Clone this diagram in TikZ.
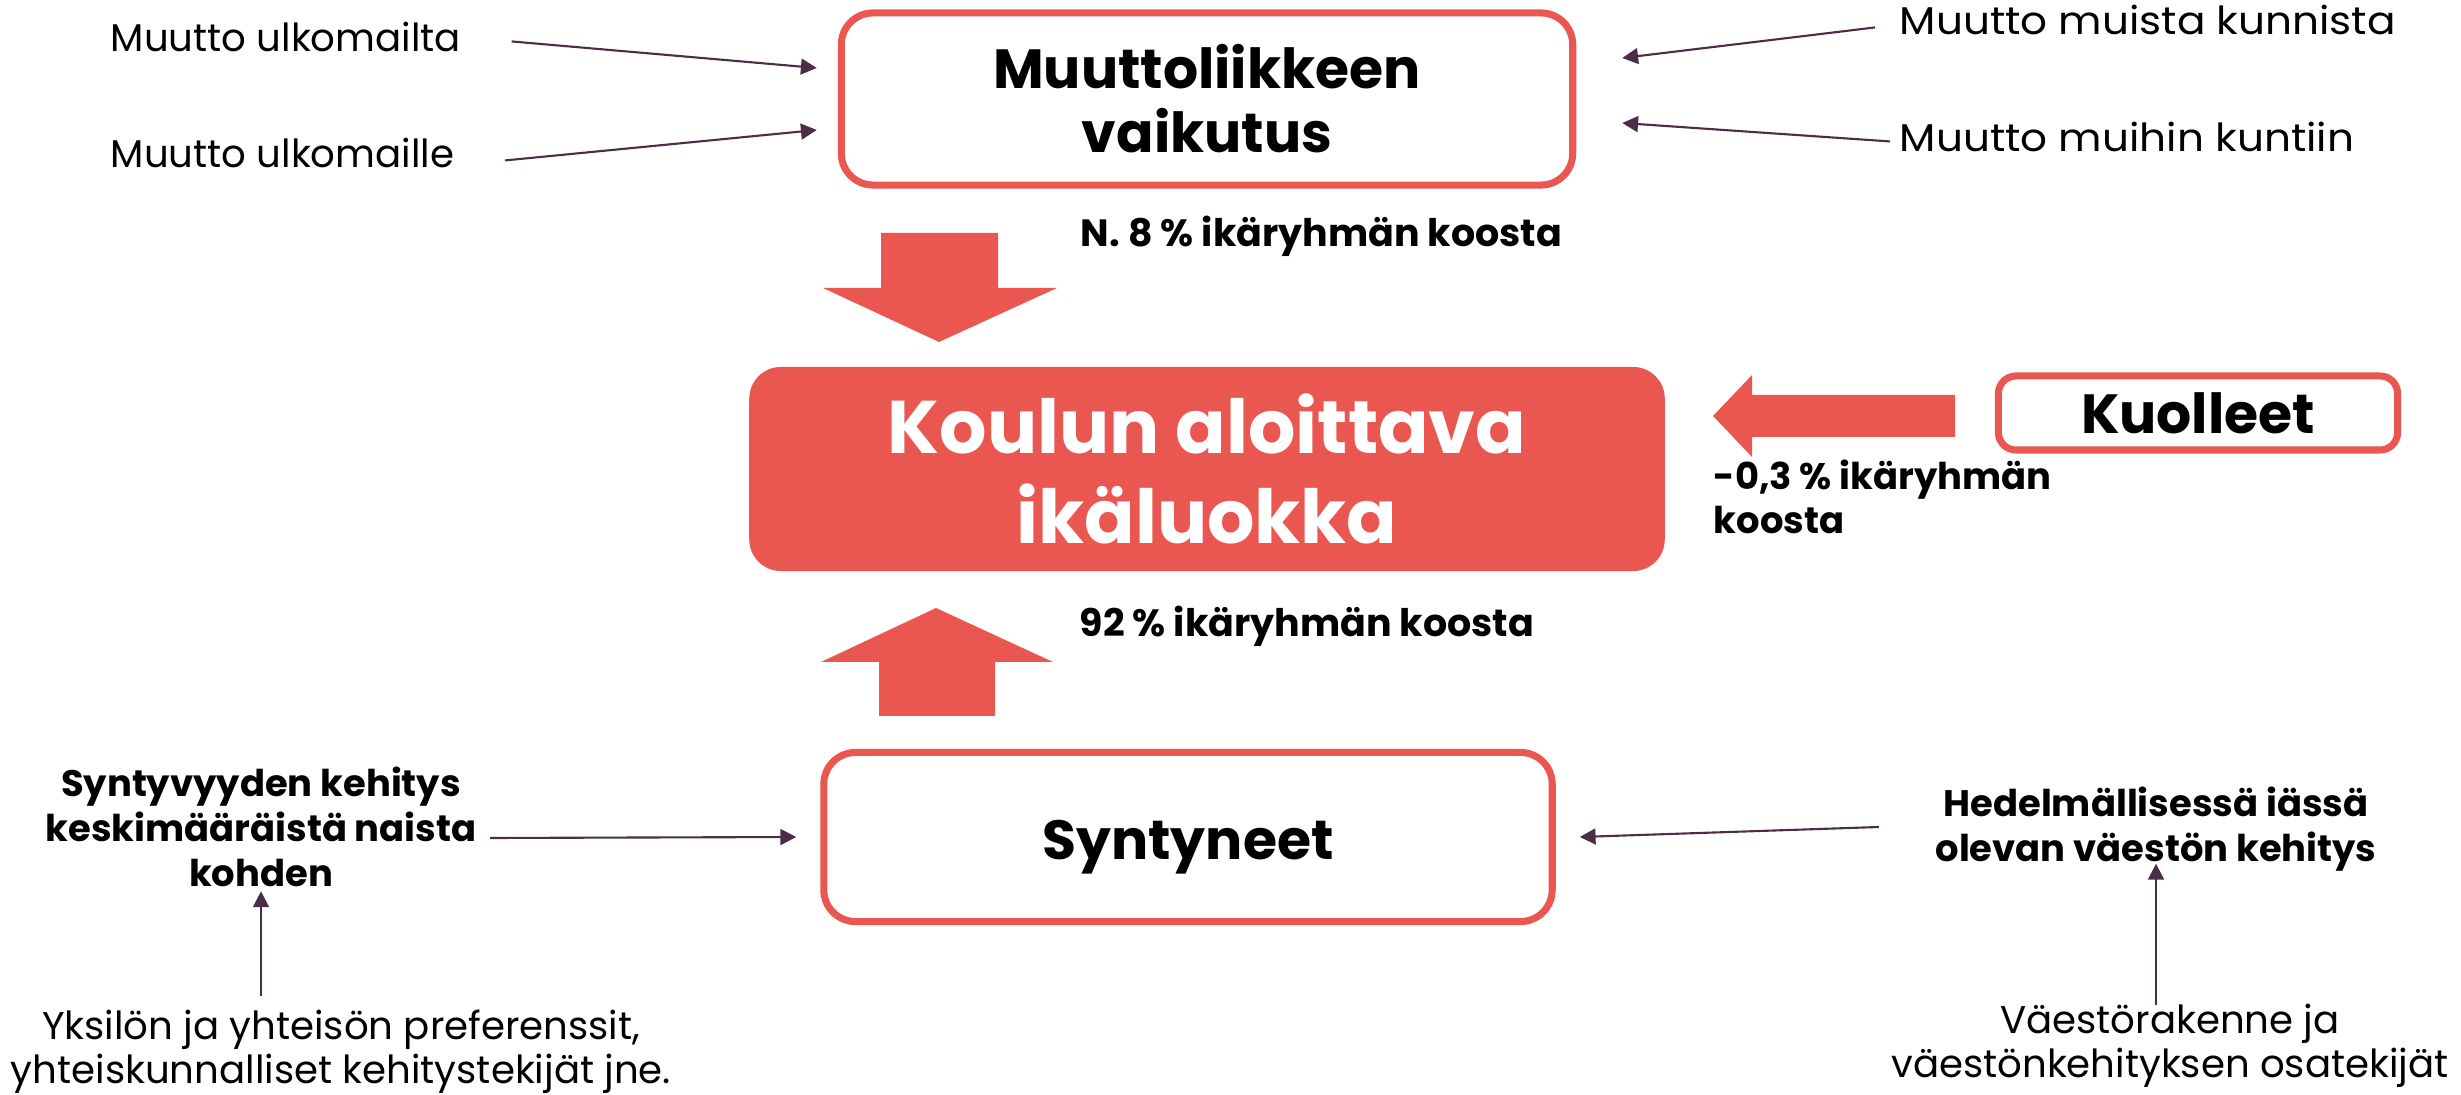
\documentclass[tikz,border=0pt]{standalone}
\usepackage{fontspec}
\setmainfont{Poppins}
\usetikzlibrary{arrows.meta,calc,positioning}
\definecolor{koralli}{HTML}{EA5650}
\definecolor{luumu}{HTML}{4B2D47}

\begin{document}
\begin{tikzpicture}[x=0.01cm,y=-0.01cm,
  laatikko/.style={draw=koralli,line width=2pt,rounded corners=9pt,fill=white,align=center,inner sep=0pt,font=\fontsize{15.7pt}{18.2pt}\selectfont\bfseries},
  selite/.style={align=center,inner sep=0pt,font=\fontsize{11pt}{12.5pt}\selectfont},
  lihava/.style={align=center,inner sep=0pt,font=\fontsize{10.5pt}{12.7pt}\selectfont\bfseries},
  yhteys/.style={draw=luumu,line width=0.6pt,-{Triangle[length=4.5pt,width=4.5pt]}}]
\useasboundingbox (0,0) rectangle (2461,1095);
\node[laatikko,minimum width=7.31cm,minimum height=1.72cm] (muutto) at (1207,99) {Muuttoliikkeen\\vaikutus};
\node[fill=koralli,rounded corners=9pt,minimum width=9.15cm,minimum height=2.04cm,text=white,align=center,inner sep=0pt,font=\fontsize{21.2pt}{25.6pt}\selectfont\bfseries] (koulu) at (1207,469) {Koulun aloittava\\ikäluokka};
\node[laatikko,rounded corners=5pt,minimum width=3.99cm,minimum height=0.74cm] (kuolleet) at (2198,413) {Kuolleet};
\node[laatikko,minimum width=7.28cm,minimum height=1.69cm,text height=12.6pt,text depth=0pt] (syntyneet) at (1188,837) {Syntyneet};
\node[selite,anchor=base west] (ulkoa) at (110,52) {Muutto ulkomailta};
\node[selite,anchor=base west] (ulos) at (110,168) {Muutto ulkomaille};
\node[selite,anchor=base west] (kunnista) at (1899,35) {\scalebox{1.09}[1]{Muutto muista kunnista}};
\node[selite,anchor=base west] (kuntiin) at (1899,152) {\scalebox{1.09}[1]{Muutto muihin kuntiin}};
\node[lihava,font=\fontsize{10.8pt}{12.7pt}\selectfont\bfseries,anchor=base west] (osuus8) at (1080,247) {N. 8 \% ikäryhmän koosta};
\node[lihava,font=\fontsize{10.8pt}{12.7pt}\selectfont\bfseries,anchor=base west] (osuus92) at (1079,637) {92 \% ikäryhmän koosta};
\node[lihava,align=left,anchor=north west] (osuus03) at (1713,459) {-0,3 \% ikäryhmän\\koosta};
\node[lihava] (syntyvyys) at (261,827) {Syntyvyyden kehitys\\keskimääräistä naista\\kohden};
\node[lihava] (hedelma) at (2156,829) {Hedelmällisessä iässä\\olevan väestön kehitys};
\node[selite] (yksilo) at (341,1052) {Yksilön ja yhteisön preferenssit,\\yhteiskunnalliset kehitystekijät jne.};
\node[selite] (rakenne) at (2170,1046) {Väestörakenne ja\\väestönkehityksen osatekijät};
\fill[koralli] (881,233) -- (998,233) -- (998,288) -- (1057,288) -- (939,342) -- (823,288) -- (881,288) -- cycle;
\fill[koralli] (879,716) -- (995,716) -- (995,662) -- (1053,662) -- (936,608) -- (821,662) -- (879,662) -- cycle;
\fill[koralli] (1955,395) -- (1955,437) -- (1752,437) -- (1752,457) -- (1713,416) -- (1752,375) -- (1752,395) -- cycle;
\draw[yhteys] ($(ulkoa.east)+(50,4)$) -- ($(muutto.west)+(-21,-31)$);
\draw[yhteys] ($(ulos.east)+(50,7)$) -- ($(muutto.west)+(-21,31)$);
\draw[yhteys] ($(kunnista.west)+(-24,7)$) -- ($(muutto.east)+(46,-41)$);
\draw[yhteys] ($(kuntiin.west)+(-9,4)$) -- ($(muutto.east)+(46,24)$);
\draw[yhteys] ($(syntyvyys.east)+(13,11)$) -- ($(syntyneet.west)+(-24,0)$);
\draw[yhteys] ($(hedelma.west)+(-56,-2)$) -- ($(syntyneet.east)+(24,0)$);
\draw[yhteys] ($(syntyvyys.south |- yksilo.north)+(0,-14)$) -- ($(syntyvyys.south)+(0,4)$);
\draw[yhteys] ($(hedelma.south |- rakenne.north)+(0,1)$) -- ($(hedelma.south)+(0,-8)$);
\end{tikzpicture}
\end{document}
